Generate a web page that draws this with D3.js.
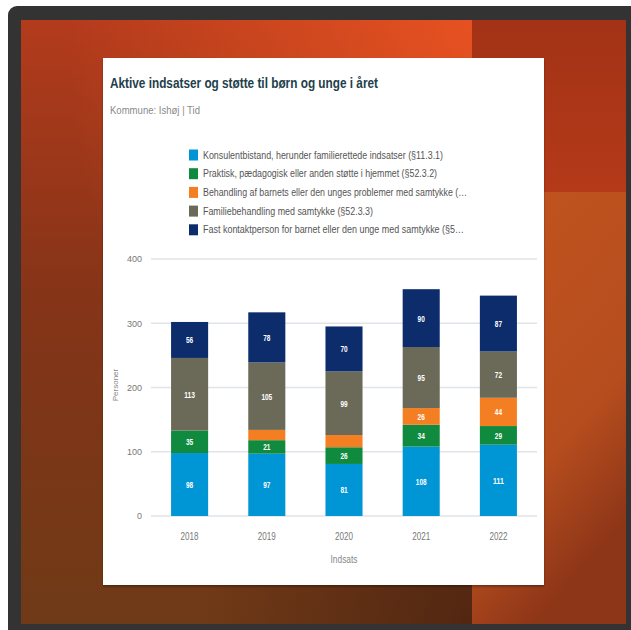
<!DOCTYPE html>
<html><head><meta charset="utf-8">
<script src="https://cdn.jsdelivr.net/npm/d3@7"></script>
<style>html,body{margin:0;padding:0;background:#fff;overflow:hidden}</style>
</head><body>
<svg id="c" width="631" height="630"></svg>
<script>
const years = ["2018", "2019", "2020", "2021", "2022"];
const seriesNames = [
  "Konsulentbistand, herunder familierettede indsatser (§11.3.1)",
  "Praktisk, pædagogisk eller anden støtte i hjemmet (§52.3.2)",
  "Behandling af barnets eller den unges problemer med samtykke (…",
  "Familiebehandling med samtykke (§52.3.3)",
  "Fast kontaktperson for barnet eller den unge med samtykke (§5…"
];
const konsulent = [98, 97, 81, 108, 111];
const praktisk = [35, 21, 26, 34, 29];
const behandling = [0, 16, 19, 26, 44];
const familie = [113, 105, 99, 95, 72];
const kontakt = [56, 78, 70, 90, 87];
const yTicks = [0, 100, 200, 300, 400];
const colors = ["#0096d6", "#0f8a3e", "#f47f22", "#6b6958", "#0c2c6c"];

const svg = d3.select("#c");
const defs = svg.append("defs");

// background gradients
const g1 = defs.append("linearGradient").attr("id","bgMain").attr("x1",0).attr("y1",0).attr("x2",0).attr("y2",1);
g1.append("stop").attr("offset","0%").attr("stop-color","#b33b1c");
g1.append("stop").attr("offset","45%").attr("stop-color","#863418");
g1.append("stop").attr("offset","100%").attr("stop-color","#6f3a17");
const r1 = defs.append("radialGradient").attr("id","hiTop").attr("cx",1).attr("cy",0).attr("r",0.9);
r1.append("stop").attr("offset","0%").attr("stop-color","#e65121").attr("stop-opacity",1);
r1.append("stop").attr("offset","100%").attr("stop-color","#e65121").attr("stop-opacity",0);
const r2 = defs.append("radialGradient").attr("id","dkBot").attr("cx",1).attr("cy",1).attr("r",0.6);
r2.append("stop").attr("offset","0%").attr("stop-color","#4a2210").attr("stop-opacity",0.8);
r2.append("stop").attr("offset","100%").attr("stop-color","#4a2210").attr("stop-opacity",0);
const g2 = defs.append("linearGradient").attr("id","bandLow").attr("x1",0).attr("y1",0).attr("x2",0.4).attr("y2",1);
g2.append("stop").attr("offset","0%").attr("stop-color","#c2551f");
g2.append("stop").attr("offset","70%").attr("stop-color","#b64d1e");
g2.append("stop").attr("offset","100%").attr("stop-color","#8e3618");
const g3 = defs.append("linearGradient").attr("id","bandTop").attr("x1",0).attr("y1",0).attr("x2",0).attr("y2",1);
g3.append("stop").attr("offset","0%").attr("stop-color","#a33216");
g3.append("stop").attr("offset","100%").attr("stop-color","#b43a19");
const sh = defs.append("filter").attr("id","shadow").attr("x","-5%").attr("y","-5%").attr("width","110%").attr("height","110%");
sh.append("feDropShadow").attr("dx",0).attr("dy",1.5).attr("stdDeviation",1.2).attr("flood-color","#000").attr("flood-opacity",0.35);

// frame
svg.append("rect").attr("x",8).attr("y",6).attr("width",660).attr("height",660).attr("rx",9).attr("fill","#333333");
svg.append("rect").attr("x",21).attr("y",20).attr("width",605).attr("height",604).attr("fill","url(#bgMain)");
svg.append("rect").attr("x",21).attr("y",20).attr("width",451).attr("height",604).attr("fill","url(#hiTop)");
svg.append("rect").attr("x",21).attr("y",20).attr("width",451).attr("height",604).attr("fill","url(#dkBot)");
svg.append("rect").attr("x",472).attr("y",192).attr("width",154).attr("height",432).attr("fill","url(#bandLow)");
svg.append("rect").attr("x",472).attr("y",20).attr("width",154).attr("height",172).attr("fill","url(#bandTop)");

// card
svg.append("rect").attr("x",103).attr("y",58).attr("width",441).attr("height",527).attr("fill","#ffffff").attr("filter","url(#shadow)");

const font = "'Liberation Sans', Arial, sans-serif";

svg.append("text").attr("x",110).attr("y",88).attr("font-family",font).attr("font-weight","bold")
  .attr("font-size",15).attr("fill","#22404a").attr("textLength",268).attr("lengthAdjust","spacingAndGlyphs")
  .text("Aktive indsatser og støtte til børn og unge i året");
svg.append("text").attr("x",110).attr("y",114).attr("font-family",font)
  .attr("font-size",11).attr("fill","#8a8a8a").attr("textLength",90).attr("lengthAdjust","spacingAndGlyphs")
  .text("Kommune: Ishøj | Tid");

// legend
const legendW = [240, 234, 264, 170, 261];
const lg = svg.append("g");
seriesNames.forEach((name, i) => {
  const cy = 155 + i * 18.7;
  lg.append("rect").attr("x",189).attr("y",cy-5.5).attr("width",9).attr("height",11).attr("fill",colors[i]);
  lg.append("text").attr("x",203).attr("y",cy+3.5).attr("font-family",font).attr("font-size",10)
    .attr("fill","#555").attr("textLength",legendW[i]).attr("lengthAdjust","spacingAndGlyphs").text(name);
});

// scales
const x = d3.scaleBand().domain(years).range([151, 537]).paddingInner(0.52).paddingOuter(0.26);
const y = d3.scaleLinear().domain([0, 400]).range([516, 259]);

// gridlines
svg.append("g").selectAll("line").data(yTicks).join("line")
  .attr("x1",151).attr("x2",537).attr("y1",d=>y(d)).attr("y2",d=>y(d))
  .attr("stroke","#dfe4e9").attr("stroke-width",1.5);

const yAxis = svg.append("g").attr("transform","translate(142,0)")
  .call(d3.axisLeft(y).tickValues(yTicks).tickSize(0).tickPadding(0));
yAxis.select(".domain").remove();
yAxis.selectAll("text").attr("font-family",font).attr("font-size",9).attr("fill","#777");

const xAxis = svg.append("g").attr("transform","translate(0,532)")
  .call(d3.axisBottom(x).tickSize(0).tickPadding(0));
xAxis.select(".domain").remove();
xAxis.selectAll("text").attr("font-family",font).attr("font-size",11).attr("fill","#777")
  .attr("textLength",18).attr("lengthAdjust","spacingAndGlyphs");

svg.append("text").attr("x",(x.range()[0]+x.range()[1])/2).attr("y",563).attr("text-anchor","middle")
  .attr("font-family",font).attr("font-size",10).attr("fill","#888")
  .attr("textLength",27).attr("lengthAdjust","spacingAndGlyphs").text("Indsats");
svg.append("text").attr("transform","translate(118,385) rotate(-90)").attr("text-anchor","middle")
  .attr("font-family",font).attr("font-size",8).attr("fill","#888").text("Personer");

// stacked bars
const rows = years.map((yr, i) => ({year: yr, s0: konsulent[i], s1: praktisk[i], s2: behandling[i], s3: familie[i], s4: kontakt[i]}));
const keys = ["s0","s1","s2","s3","s4"];
const stacked = d3.stack().keys(keys)(rows);
const bars = svg.append("g");
stacked.forEach((layer, li) => {
  const g = bars.append("g").attr("fill", colors[li]);
  g.selectAll("rect").data(layer).join("rect")
    .attr("x", d => x(d.data.year)).attr("width", x.bandwidth())
    .attr("y", d => y(d[1])).attr("height", d => y(d[0]) - y(d[1]));
  bars.append("g").selectAll("text").data(layer.filter(d => d[1]-d[0] >= 20)).join("text")
    .attr("x", d => x(d.data.year) + x.bandwidth()/2)
    .attr("y", d => (y(d[0]) + y(d[1]))/2 + 3.5)
    .attr("text-anchor","middle").attr("font-family",font).attr("font-size",9).attr("font-weight","bold")
    .attr("fill","#ffffff").attr("textLength", d => String(d[1]-d[0]).length * 3.6)
    .attr("lengthAdjust","spacingAndGlyphs").text(d => d[1]-d[0]);
});
</script>
</body></html>
